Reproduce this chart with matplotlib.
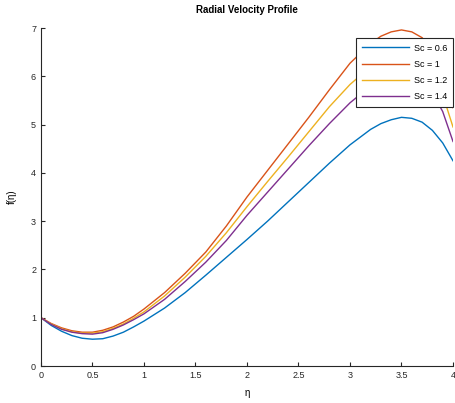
import matplotlib
matplotlib.use("Agg")
import matplotlib.pyplot as plt

plt.rcParams["font.family"] = ["Liberation Sans", "DejaVu Sans"]

# similarity variable
eta = [0.0, 0.1, 0.2, 0.3, 0.4, 0.5, 0.6, 0.7, 0.8, 0.9, 1.0, 1.2, 1.4, 1.6,
       1.8, 2.0, 2.2, 2.4, 2.6, 2.8, 3.0, 3.2, 3.3, 3.4, 3.5, 3.6, 3.7, 3.8,
       3.9, 4.0]

f_sc06 = [1.0, 0.84, 0.72, 0.63, 0.575, 0.555, 0.565, 0.62, 0.70, 0.81, 0.93,
          1.20, 1.52, 1.88, 2.25, 2.62, 3.00, 3.40, 3.80, 4.20, 4.58, 4.90,
          5.02, 5.10, 5.15, 5.13, 5.05, 4.88, 4.62, 4.25]
f_sc10 = [1.0, 0.88, 0.79, 0.73, 0.70, 0.70, 0.74, 0.81, 0.91, 1.03, 1.18,
          1.52, 1.92, 2.36, 2.90, 3.50, 4.05, 4.60, 5.15, 5.72, 6.27, 6.68,
          6.83, 6.92, 6.96, 6.92, 6.80, 6.55, 6.10, 5.35]
f_sc12 = [1.0, 0.87, 0.77, 0.71, 0.68, 0.68, 0.71, 0.78, 0.87, 0.99, 1.12,
          1.45, 1.84, 2.27, 2.76, 3.30, 3.82, 4.33, 4.85, 5.37, 5.83, 6.20,
          6.34, 6.43, 6.47, 6.43, 6.30, 6.05, 5.62, 4.95]
f_sc14 = [1.0, 0.86, 0.76, 0.70, 0.67, 0.66, 0.69, 0.76, 0.85, 0.96, 1.08,
          1.38, 1.75, 2.15, 2.60, 3.12, 3.60, 4.08, 4.56, 5.02, 5.45, 5.80,
          5.92, 6.00, 6.05, 6.02, 5.90, 5.66, 5.27, 4.65]

labels = ["Sc = 0.6", "Sc = 1", "Sc = 1.2", "Sc = 1.4"]
colors = ["#0072BD", "#D95319", "#EDB120", "#7E2F8E"]

xticks = [0, 0.5, 1, 1.5, 2, 2.5, 3, 3.5, 4]
xticklabels = ["0", "0.5", "1", "1.5", "2", "2.5", "3", "3.5", "4"]
yticks = [0, 1, 2, 3, 4, 5, 6, 7]

fig = plt.figure(figsize=(4.55, 4.03), dpi=100)
ax = fig.add_axes([0.09, 0.0918, 0.9056, 0.8387])

for y, lab, c in zip([f_sc06, f_sc10, f_sc12, f_sc14], labels, colors):
    ax.plot(eta, y, color=c, lw=1.0, label=lab)

ax.set_xlim(0, 4)
ax.set_ylim(0, 7)
ax.set_xticks(xticks)
ax.set_xticklabels(xticklabels)
ax.set_yticks(yticks)
ax.tick_params(direction="in", length=3, width=0.8, labelsize=6.5, colors="#262626")
for s in ["top", "right"]:
    ax.spines[s].set_visible(False)
for s in ["left", "bottom"]:
    ax.spines[s].set_color("#262626")
    ax.spines[s].set_linewidth(0.8)

ax.set_title("Radial Velocity Profile", fontsize=7, fontweight="bold", pad=11)
ax.set_xlabel("η", fontsize=7, labelpad=6)
ax.set_ylabel("f(η)", fontsize=7, labelpad=10)

leg = ax.legend(loc="upper right", bbox_to_anchor=(1.0, 0.97), borderaxespad=0,
                fontsize=6.5, handlelength=5.2, handletextpad=0.6, borderpad=0.6,
                frameon=True, fancybox=False, framealpha=1, edgecolor="#262626",
                labelspacing=0.8)
leg.get_frame().set_linewidth(0.8)

fig.savefig("out.png", dpi=100)
